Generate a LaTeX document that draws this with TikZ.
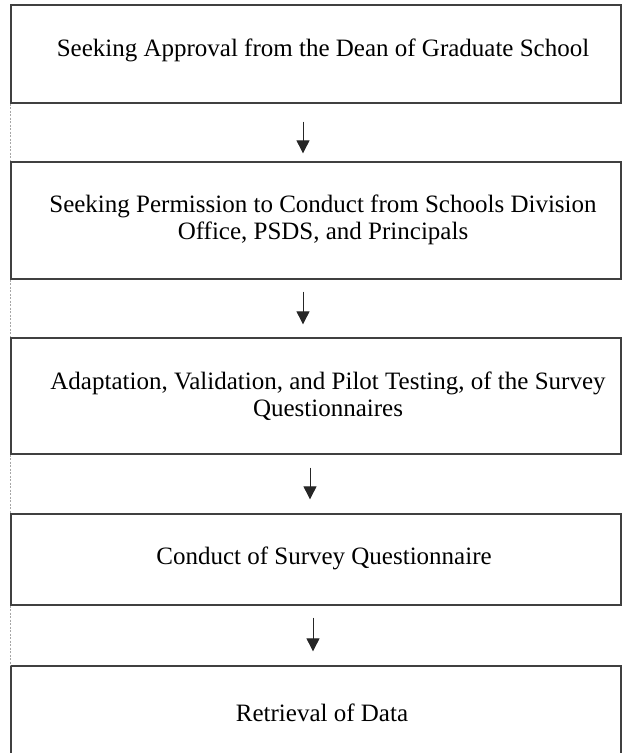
\documentclass[tikz,border=0pt]{standalone}
\usepackage{fontspec}
\setmainfont{Liberation Serif}
\usetikzlibrary{arrows.meta,calc}
\begin{document}
\begin{tikzpicture}[x=1pt,y=-1pt,
  box/.style={draw=black!75, line width=1.3pt, minimum width=610pt, inner sep=0pt},
  txt/.style={align=center, font=\fontsize{25}{27}\selectfont, inner sep=0pt},
  arr/.style={line width=0.9pt, draw=black!85, -{Triangle[width=13pt,length=13pt]}},
  gap/.style={draw=black!35, line width=1pt, dash pattern=on 2pt off 1.5pt}]
\useasboundingbox (0,0) rectangle (622,753);
\node[box, minimum height=98pt] (b1) at (316,54) {};
\node[box, minimum height=117pt] (b2) at (316,220.5) {};
\node[box, minimum height=116pt] (b3) at (316,396) {};
\node[box, minimum height=91pt] (b4) at (316,559.5) {};
\node[box, minimum height=100pt] (b5) at (316,716) {};
\node[txt] (t1) at (323,50) {Seeking Approval from the Dean of Graduate School};
\node[txt] (t2) at (323,220) {Seeking Permission to Conduct from Schools Division\\Office, PSDS, and Principals};
\node[txt] (t3) at (328,396) {Adaptation, Validation, and Pilot Testing, of the Survey\\Questionnaires};
\node[txt] (t4) at (324,558) {Conduct of Survey Questionnaire};
\node[txt] (t5) at (322,713) {Retrieval of Data};
\draw[gap] (b1.south west) -- (b2.north west);
\draw[gap] (b2.south west) -- (b3.north west);
\draw[gap] (b3.south west) -- (b4.north west);
\draw[gap] (b4.south west) -- (b5.north west);
\coordinate (a1) at ($(b1.south)+(-13,18)$);
\coordinate (a2) at ($(b2.south)+(-13,12)$);
\coordinate (a3) at ($(b3.south)+(-6,13)$);
\coordinate (a4) at ($(b4.south)+(-3,12)$);
\draw[arr] (a1) -- ($(b2.north)+(-13,-8)$);
\draw[arr] (a2) -- ($(b3.north)+(-13,-13)$);
\draw[arr] (a3) -- ($(b4.north)+(-6,-14)$);
\draw[arr] (a4) -- ($(b5.north)+(-3,-14)$);
\end{tikzpicture}
\end{document}
